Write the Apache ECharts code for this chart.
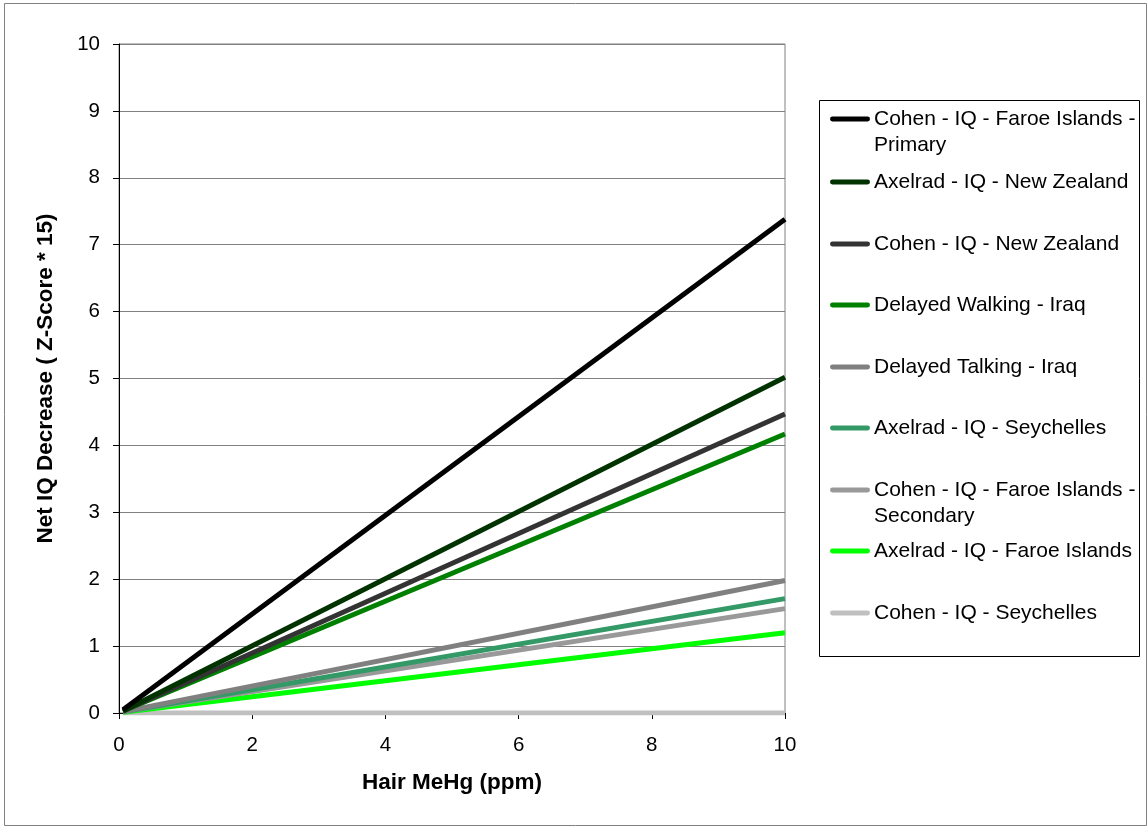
<!DOCTYPE html>
<html><head><meta charset="utf-8">
<script src="https://cdn.jsdelivr.net/npm/echarts@6/dist/echarts.min.js"></script>
<style>html,body{margin:0;padding:0;background:#fff}#c{width:1148px;height:828px}</style>
</head><body><div id="c"></div>
<script>
const seriesNames = [
  'Cohen - IQ - Faroe Islands - Primary',
  'Axelrad - IQ - New Zealand',
  'Cohen - IQ - New Zealand',
  'Delayed Walking - Iraq',
  'Delayed Talking - Iraq',
  'Axelrad - IQ - Seychelles',
  'Cohen - IQ - Faroe Islands - Secondary',
  'Axelrad - IQ - Faroe Islands',
  'Cohen - IQ - Seychelles'
];
const legendLabels = [
  'Cohen - IQ - Faroe Islands -\nPrimary',
  'Axelrad - IQ - New Zealand',
  'Cohen - IQ - New Zealand',
  'Delayed Walking - Iraq',
  'Delayed Talking - Iraq',
  'Axelrad - IQ - Seychelles',
  'Cohen - IQ - Faroe Islands -\nSecondary',
  'Axelrad - IQ - Faroe Islands',
  'Cohen - IQ - Seychelles'
];
const colors = ['#000000','#003300','#333333','#008000','#808080','#339966','#999999','#00FF00','#C0C0C0'];
const xStart = [0.06,0.06,0.06,0.06,0.06,0.06,0.06,0.06,0.06];
const yStart = [0.05,0.03,0.03,0.03,0.02,0.02,0.02,0.01,0.0];
const xEnd = [10,10,10,10,10,10,10,10,10];
const yEnd = [7.38,5.02,4.47,4.17,1.98,1.71,1.56,1.20,0.0];
const xTicks = [0,2,4,6,8,10];
const yTicks = [0,1,2,3,4,5,6,7,8,9,10];

const font = 'Liberation Sans, Arial, sans-serif';
const legendTops = [119,182,244,305,367,428,490,551,613];

const chart = echarts.init(document.getElementById('c'), null, {renderer:'canvas'});
const series = seriesNames.map((n,i)=>({
  name:n, type:'line', symbol:'none', silent:true,
  data:[[xStart[i],yStart[i]],[xEnd[i],yEnd[i]]],
  lineStyle:{color:colors[i],width:5,cap:'butt'},
  itemStyle:{color:colors[i]},
  z: 10 - i
}));
const legends = seriesNames.map((n,i)=>{
  const multi = legendLabels[i].indexOf('\n')>=0;
  const lab = multi ? '\n'+legendLabels[i] : legendLabels[i];
  const lh = 26;
  const h = multi ? lh*3 : lh;
  return {
    data:[{name:n, icon:'path://M2,0 L38,0 A2.5,2.5 0 0 1 38,5 L2,5 A2.5,2.5 0 0 1 2,0 Z'}],
    left:830, top: legendTops[i]-h/2, orient:'vertical',
    itemWidth:40, itemHeight:5, itemGap:0, padding:0,
    selectedMode:false,
    formatter: ()=>lab,
    textStyle:{fontFamily:font,fontSize:21,color:'#000',lineHeight:lh,padding:[0,0,0,-1]}
  };
});
chart.setOption({
  animation:false,
  backgroundColor:'#fff',
  graphic:[
    {type:'rect',shape:{x:4.5,y:3.5,width:1142,height:822},style:{fill:null,stroke:'#808080',lineWidth:1},z:-10},
    {type:'rect',shape:{x:819.5,y:100.5,width:320,height:556},style:{fill:'#fff',stroke:'#000',lineWidth:1},z:-5}
  ],
  grid:{left:119,top:44,right:363,bottom:115,show:true,borderColor:'#808080',borderWidth:1},
  xAxis:{type:'value',min:0,max:10,interval:2,
    name:'Hair MeHg (ppm)',nameLocation:'middle',nameGap:58,
    nameTextStyle:{fontFamily:font,fontSize:22.5,fontWeight:'bold',color:'#000'},
    axisLine:{show:true,lineStyle:{color:'#000',width:1}},
    axisTick:{show:true,inside:false,length:6,lineStyle:{color:'#000'}},
    axisLabel:{fontFamily:font,fontSize:20.5,color:'#000',margin:22,formatter:v=>xTicks.indexOf(v)>=0?String(v):''},
    splitLine:{show:false}},
  yAxis:{type:'value',min:0,max:10,interval:1,
    name:'Net IQ Decrease ( Z-Score * 15)',nameLocation:'middle',nameGap:62,nameRotate:90,
    nameTextStyle:{fontFamily:font,fontSize:22.5,fontWeight:'bold',color:'#000'},
    axisLine:{show:true,lineStyle:{color:'#000',width:1}},
    axisTick:{show:true,inside:false,length:6,lineStyle:{color:'#000'}},
    axisLabel:{fontFamily:font,fontSize:20.5,color:'#000',margin:19,formatter:v=>yTicks.indexOf(v)>=0?String(v):''},
    splitLine:{show:true,lineStyle:{color:'#808080',width:1}}},
  legend:legends,
  series:series
});
</script></body></html>
